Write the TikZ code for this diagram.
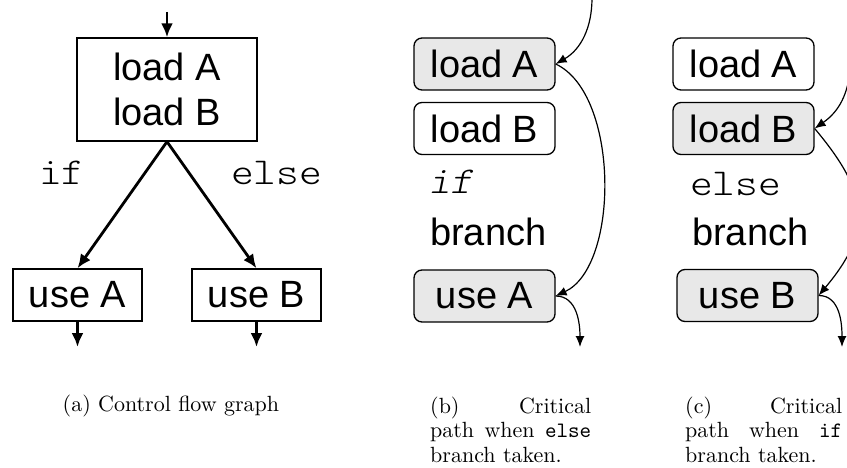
\documentclass[tikz,border=0pt]{standalone}
\usepackage{fontspec}
% captions keep the 10pt design of Latin Modern at every size
\setmainfont{lmroman10-regular}[Extension=.otf]
\setmonofont{lmmono10-regular}[Extension=.otf]
\newfontfamily\boxfont{Liberation Sans}
\newfontfamily\codefont{lmmonolt10-regular}[Extension=.otf,FakeStretch=1.14]
\newfontfamily\codeslant{lmmonolt10-regular}[Extension=.otf,FakeStretch=1.14,FakeSlant=0.2]
\usetikzlibrary{arrows.meta}
\definecolor{pathfill}{HTML}{E8E8E8}

\tikzset{
  flowbox/.style={draw, line width=1.4pt, rectangle, inner sep=0pt,
    font=\boxfont\fontsize{38}{45}\selectfont, align=center},
  instbox/.style={draw, line width=1.3pt, rectangle, rounded corners=8pt,
    inner sep=0pt, minimum width=141pt, minimum height=52pt,
    font=\boxfont\fontsize{38}{45}\selectfont},
  hotbox/.style={instbox, fill=pathfill},
  codelbl/.style={inner sep=0pt, anchor=base west,
    font=\codefont\fontsize{38}{45}\selectfont},
  plainlbl/.style={inner sep=0pt, anchor=base west,
    font=\boxfont\fontsize{38}{45}\selectfont},
  thickarrow/.style={line width=2.8pt, -{Latex[length=14pt,width=12pt]}},
  thinarrow/.style={line width=1.2pt, -{Latex[length=11pt,width=9pt]}},
  caplbl/.style={inner sep=0pt, anchor=base west,
    font=\fontsize{22}{24.5}\selectfont},
}

\begin{document}
\begin{tikzpicture}[x=1pt,y=1pt]
\useasboundingbox (0,0) rectangle (847,-468);
\clip (0,0) rectangle (847,-468);

% ---- (a) control flow graph ----
\node[flowbox, minimum width=180pt, minimum height=103pt] (ld) at (167,-89.5) {load A\\load B};
\node[flowbox, minimum width=129pt, minimum height=52pt] (ua) at (77.5,-295) {use A};
\node[flowbox, minimum width=129pt, minimum height=52pt] (ub) at (256.5,-295) {use B};
\coordinate (entry) at (167,-12);
\coordinate (exa) at (77.5,-347);
\coordinate (exb) at (256.5,-347);
\draw[thickarrow] (entry) -- (ld.north);
\draw[thickarrow] (ld.south) -- (ua.north);
\draw[thickarrow] (ld.south) -- (ub.north);
\draw[thickarrow] (ua.south) -- (exa);
\draw[thickarrow] (ub.south) -- (exb);
\node[codelbl] (iflbl) at (39,-185) {if};
\node[codelbl] (elselbl) at (231,-185) {else};

% ---- (b) critical path, else taken ----
\node[hotbox] (bla) at (484.5,-64) {load A};
\node[instbox] (blb) at (484.5,-128.5) {load B};
\node[codelbl, font=\codeslant\fontsize{38}{45}\selectfont] (bif) at (428,-194) {if};
\node[plainlbl] (bbr) at (430,-245) {branch};
\node[hotbox] (bua) at (484.5,-296) {use A};
\coordinate (bin) at (592,2);
\coordinate (bout) at (580,-347);
\draw[thinarrow] (bin) to[out=-90,in=30] (bla.east);
\draw[thinarrow] (bla.east) to[out=-25,in=25,looseness=0.78] (bua.east);
\draw[thinarrow] (bua.east) to[out=0,in=90] (bout);

% ---- (c) critical path, if taken ----
\node[instbox] (cla) at (743.5,-64) {load A};
\node[hotbox] (clb) at (743.5,-128.5) {load B};
\node[codelbl] (celse) at (690,-196) {else};
\node[plainlbl] (cbr) at (692,-245) {branch};
\node[hotbox] (cub) at (747.5,-295.5) {use B};
\coordinate (cin) at (851,2);
\coordinate (cout) at (842,-347);
\draw[thinarrow] (cin) to[out=-90,in=35] (clb.east);
\draw[thinarrow] (clb.east) to[out=-50,in=50,looseness=1.3] (cub.east);
\draw[thinarrow] (cub.east) to[out=0,in=90] (cout);

% ---- captions ----
\node[caplbl] (capa) at (62.5,-411) {(a) Control flow graph};
\node[caplbl] (capb) at (430,-413) {\parbox[t]{161pt}{(b) Critical\linebreak path when \texttt{else}\linebreak branch taken.}};
\node[caplbl] (capc) at (685,-413) {\parbox[t]{157pt}{(c) Critical\linebreak path when \texttt{if}\linebreak branch taken.}};
\end{tikzpicture}
\end{document}
